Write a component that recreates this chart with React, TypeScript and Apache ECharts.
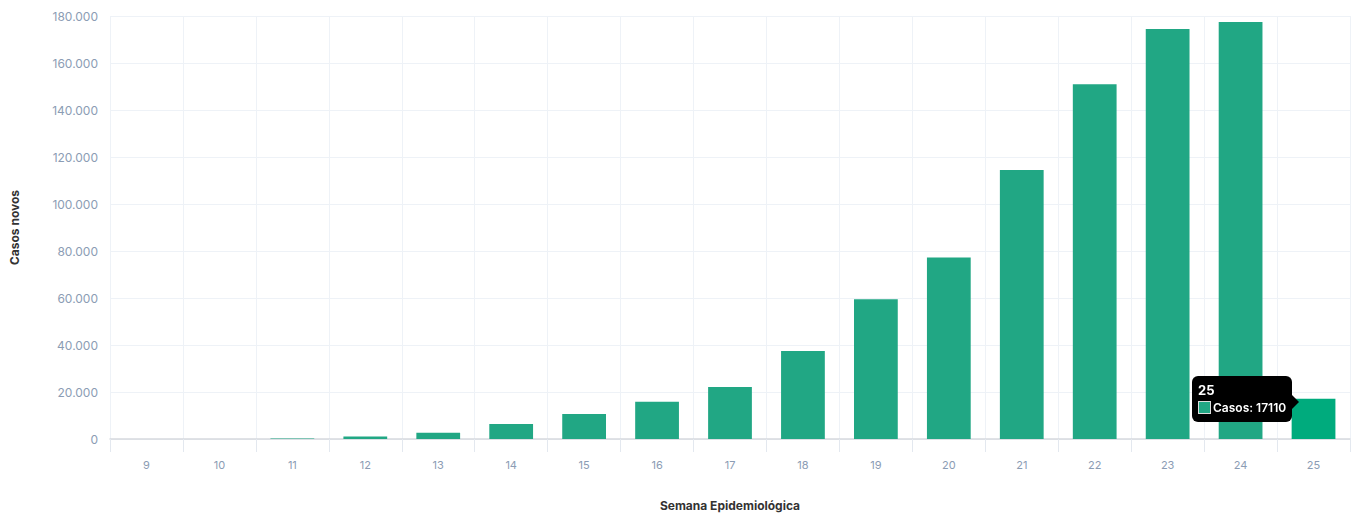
import React, { useEffect, useRef } from "react";
import * as echarts from "echarts";

const weeks = ["9", "10", "11", "12", "13", "14", "15", "16", "17", "18", "19", "20", "21", "22", "23", "24", "25"];
const cases = [10, 40, 200, 1100, 2700, 6400, 10600, 15800, 22100, 37500, 59500, 77200, 114500, 151000, 174500, 177500, 17110];
const yTicks = { min: 0, max: 180000, interval: 20000 };

export default function App() {
  const ref = useRef<HTMLDivElement>(null);
  useEffect(() => {
    document.body.style.margin = "0";
    const chart = echarts.init(ref.current!, null, { renderer: "svg" });
    const labelColor = "#8b9cb4";
    chart.setOption({
      animation: false,
      grid: { left: 107, right: 10, top: 16, bottom: 71 },
      tooltip: {
        trigger: "item",
        alwaysShowContent: true,
        backgroundColor: "#000",
        borderColor: "#000",
        borderWidth: 0,
        padding: [5, 6],
        extraCssText: "border-radius:6px;box-shadow:none;",
        position: () => [1192, 376],
        formatter: (p: any) =>
          `<div style="position:relative;font-family:Inter,Arial,sans-serif;color:#fff;font-size:12px;line-height:18px;">` +
          `<div style="font-weight:bold;font-size:13px">${p.name}</div>` +
          `<div style="font-weight:600"><span style="display:inline-block;width:11px;height:11px;background:${"#21a784"};border:1px solid #ddd;vertical-align:-2px;margin-right:2px"></span>Casos: ${p.value}</div>` +
          `<span style="position:absolute;right:-13px;top:14px;width:0;height:0;border-top:7px solid transparent;border-bottom:7px solid transparent;border-left:7px solid #000"></span>` +
          `</div>`,
      },
      xAxis: {
        type: "category",
        data: weeks,
        name: "Semana Epidemiológica",
        nameLocation: "middle",
        nameGap: 60,
        nameTextStyle: { color: "#333", fontWeight: "bold", fontSize: 12, fontFamily: "Inter, Arial, sans-serif" },
        axisLine: { lineStyle: { color: "#d6d9de", width: 1.5 } },
        axisTick: { show: true, length: 13, lineStyle: { color: "#e3e8ef" } },
        axisLabel: { color: labelColor, fontSize: 11, margin: 20, fontFamily: "Inter, Arial, sans-serif" },
        splitLine: { show: true, lineStyle: { color: "#eef2f7" } },
      },
      yAxis: {
        type: "value",
        min: yTicks.min,
        max: yTicks.max,
        interval: yTicks.interval,
        name: "Casos novos",
        nameLocation: "middle",
        nameGap: 90,
        nameRotate: 90,
        nameTextStyle: { color: "#333", fontWeight: "bold", fontSize: 12, fontFamily: "Inter, Arial, sans-serif" },
        axisLine: { show: false },
        axisTick: { show: false },
        axisLabel: {
          color: labelColor,
          fontSize: 12,
          margin: 12,
          fontFamily: "Inter, Arial, sans-serif",
          formatter: (v: number) => v.toLocaleString("de-DE"),
        },
        splitLine: { lineStyle: { color: "#eef2f7" } },
      },
      series: [
        {
          type: "bar",
          name: "Casos",
          data: cases,
          barWidth: "60%",
          itemStyle: { color: "#21a784" },
          emphasis: { itemStyle: { color: "#00ab7d" } },
        },
      ],
    });
    chart.dispatchAction({ type: "highlight", seriesIndex: 0, dataIndex: 16 });
    chart.dispatchAction({ type: "showTip", seriesIndex: 0, dataIndex: 16 });
    return () => chart.dispose();
  }, []);
  return <div ref={ref} style={{ width: 1360, height: 516 }} />;
}
